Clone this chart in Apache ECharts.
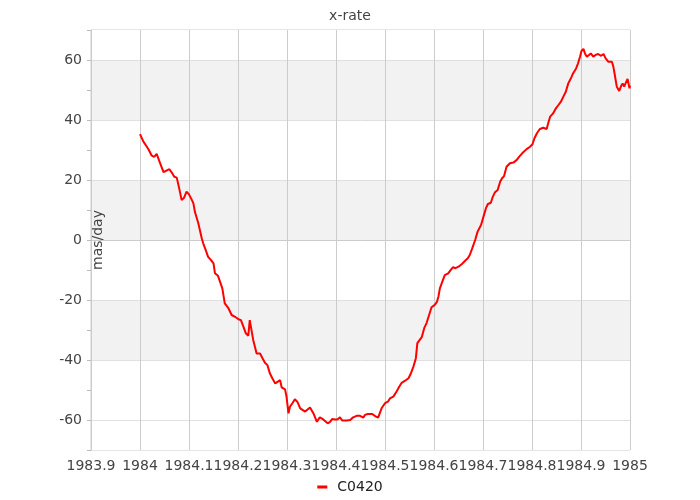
<!DOCTYPE html>
<html>
<head>
<meta charset="utf-8">
<script src="https://cdn.jsdelivr.net/npm/echarts@6/dist/echarts.min.js"></script>
<style>html,body{margin:0;padding:0;background:#fff}#c{width:700px;height:500px}</style>
</head>
<body>
<div id="c"></div>
<script>
var seriesName = 'C0420';
var years = [1984.000,1984.003,1984.007,1984.014,1984.018,1984.024,1984.029,1984.034,1984.037,1984.041,
1984.048,1984.052,1984.060,1984.066,1984.070,1984.075,1984.080,1984.085,1984.090,1984.095,
1984.100,1984.106,1984.109,1984.112,1984.119,1984.126,1984.129,1984.134,1984.139,1984.145,
1984.150,1984.153,1984.159,1984.163,1984.168,1984.173,1984.180,1984.187,1984.194,1984.201,
1984.206,1984.211,1984.216,1984.221,1984.224,1984.228,1984.231,1984.238,1984.245,1984.250,
1984.255,1984.260,1984.265,1984.270,1984.276,1984.280,1984.286,1984.289,1984.296,1984.299,
1984.303,1984.306,1984.311,1984.316,1984.321,1984.327,1984.331,1984.337,1984.340,1984.347,
1984.354,1984.361,1984.367,1984.374,1984.378,1984.383,1984.388,1984.392,1984.398,1984.403,
1984.408,1984.413,1984.422,1984.429,1984.435,1984.442,1984.449,1984.456,1984.459,1984.465,
1984.469,1984.474,1984.480,1984.486,1984.490,1984.493,1984.500,1984.506,1984.510,1984.517,
1984.524,1984.529,1984.534,1984.541,1984.548,1984.553,1984.558,1984.563,1984.566,1984.569,
1984.575,1984.580,1984.585,1984.590,1984.595,1984.601,1984.606,1984.609,1984.612,1984.617,
1984.622,1984.629,1984.635,1984.639,1984.644,1984.650,1984.657,1984.663,1984.669,1984.673,
1984.678,1984.684,1984.689,1984.696,1984.701,1984.706,1984.710,1984.716,1984.720,1984.724,
1984.730,1984.735,1984.739,1984.743,1984.748,1984.755,1984.762,1984.769,1984.774,1984.780,
1984.789,1984.796,1984.801,1984.805,1984.810,1984.816,1984.823,1984.830,1984.833,1984.837,
1984.843,1984.848,1984.854,1984.859,1984.864,1984.869,1984.874,1984.880,1984.884,1984.890,
1984.894,1984.898,1984.901,1984.905,1984.908,1984.912,1984.916,1984.920,1984.925,1984.930,
1984.935,1984.941,1984.946,1984.950,1984.956,1984.963,1984.966,1984.969,1984.973,1984.978,
1984.982,1984.985,1984.988,1984.992,1984.995,1984.999,1985.000];
var xrate = [35.3,35.2,32.8,31.1,30.0,28.1,27.7,28.7,28.3,25.6,
22.6,22.2,23.6,22.2,21.1,20.8,17.2,13.3,14.1,16.1,
15.2,13.3,12.2,9.4,5.6,0.6,-1.1,-3.3,-5.6,-6.7,
-7.8,-11.1,-11.9,-11.7,-16.1,-21.1,-22.6,-25.0,-25.6,-26.4,
-26.7,-28.9,-31.1,-31.9,-26.7,-26.1,-33.3,-37.8,-37.8,-39.4,
-40.9,-41.7,-44.4,-46.1,-47.8,-47.6,-46.7,-49.1,-49.8,-52.2,
-57.8,-55.6,-54.4,-53.1,-53.9,-56.1,-55.6,-57.2,-57.8,-55.8,
-57.8,-60.6,-59.1,-59.8,-60.2,-61.1,-60.6,-59.7,-59.8,-59.8,
-59.1,-60.2,-60.2,-60.0,-59.1,-58.6,-58.6,-59.2,-58.3,-58.0,
-58.6,-58.0,-58.7,-59.2,-58.8,-56.1,-54.4,-53.9,-52.8,-52.2,
-50.4,-48.9,-47.6,-46.9,-46.1,-44.4,-42.2,-39.4,-34.4,-33.9,
-32.4,-29.4,-27.6,-25.0,-22.4,-21.7,-20.6,-18.9,-16.1,-13.9,
-11.7,-11.1,-9.8,-9.1,-9.4,-8.9,-8.0,-7.0,-6.1,-5.0,
-2.8,0.0,2.8,5.0,7.8,10.6,12.0,12.4,14.4,15.8,
16.7,19.4,20.6,21.3,24.4,25.6,25.8,26.7,27.8,28.9,
30.3,31.1,31.9,33.9,35.6,37.0,37.4,37.0,38.9,41.1,
42.2,43.7,45.0,46.1,47.8,49.4,52.2,54.1,55.6,57.2,
58.9,61.1,63.0,63.7,62.2,61.1,61.4,62.2,61.1,61.7,
62.0,61.4,62.0,60.6,59.4,59.4,57.8,55.0,51.1,49.7,
51.4,52.2,51.1,51.7,53.7,50.6,51.5];

var pairs = years.map(function (t, i) { return [t, xrate[i]]; });
var FONT = 'DejaVu Sans';
var W = '#ffffff', G = '#f2f2f2';

var chart = echarts.init(document.getElementById('c'), null, {renderer: 'canvas'});
chart.setOption({
  animation: false,
  backgroundColor: '#fff',
  title: {
    text: 'x-rate', left: 'center', top: 4,
    textStyle: {fontFamily: FONT, fontSize: 14, fontWeight: 'normal', color: '#444'}
  },
  legend: {
    data: [seriesName], left: 'center', top: 475,
    icon: 'rect', itemWidth: 10, itemHeight: 3,
    textStyle: {fontFamily: FONT, fontSize: 14, color: '#222', padding: [0, 0, 0, 5]}
  },
  grid: {left: 91, right: 70, top: 30, bottom: 50, show: true, borderColor: '#ccc', borderWidth: 1, backgroundColor: 'transparent'},
  xAxis: {
    type: 'value', min: 1983.9, max: 1985, interval: 0.1,
    axisLine: {show: true, lineStyle: {color: '#ccc'}},
    axisTick: {show: true, length: 5, lineStyle: {color: '#ccc'}},
    axisLabel: {fontFamily: FONT, fontSize: 14, color: '#444', margin: 9,
      formatter: function (v) { return String(Math.round(v * 10) / 10); }},
    splitLine: {show: true, lineStyle: {color: '#cccccc', width: 1}}
  },
  yAxis: {
    type: 'value', min: -70, max: 70, interval: 10,
    name: 'mas/day', nameLocation: 'middle', nameGap: -7, nameMoveOverlap: false,
    nameTextStyle: {fontFamily: FONT, fontSize: 14, color: '#444', verticalAlign: 'middle'},
    axisLine: {show: true, lineStyle: {color: '#ccc'}},
    axisTick: {show: true, length: 4, lineStyle: {color: '#bbb'}},
    axisLabel: {fontFamily: FONT, fontSize: 14, color: '#444', margin: 9,
      formatter: function (v) { return (Math.round(v) % 20 === 0) ? String(Math.round(v)) : ''; }},
    splitLine: {show: true, lineStyle: {color: ['rgba(0,0,0,0)', '#e0e0e0'], width: 1}},
    splitArea: {show: true, areaStyle: {color: [W, W, W, G, G, W, W, G, G, W, W, G, G, W]}}
  },
  series: [{
    name: seriesName, type: 'line', data: pairs,
    showSymbol: false, symbol: 'none',
    lineStyle: {color: '#ff0000', width: 2},
    itemStyle: {color: '#ff0000'}
  }]
});
</script>
</body>
</html>
